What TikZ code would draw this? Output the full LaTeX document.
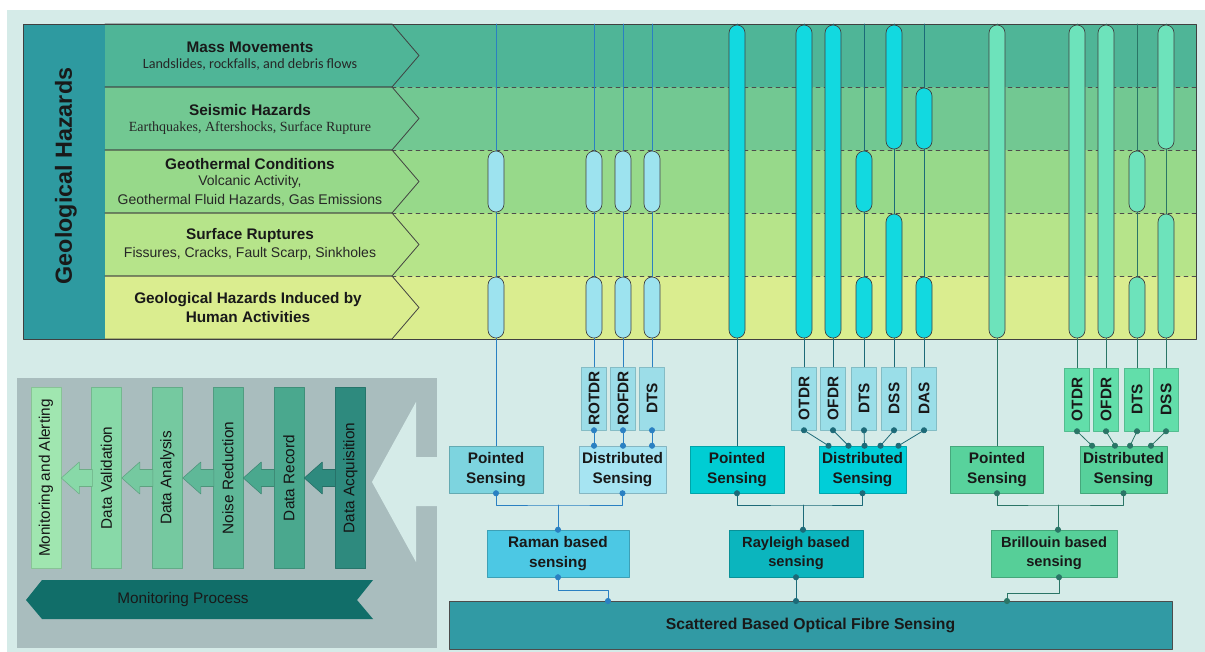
\documentclass[tikz,border=0pt]{standalone}
\usepackage{fontspec}
\setmainfont{Liberation Sans}
\newfontfamily\calfont{Carlito}
\newfontfamily\serfont{Liberation Serif}
\usepackage{graphicx}
\usepackage{tikz}
\usetikzlibrary{arrows.meta}

\definecolor{bgpanel}{HTML}{D5EBE8}
\definecolor{hazcol}{HTML}{2E9AA0}
\definecolor{rowA}{HTML}{4FB597}
\definecolor{rowB}{HTML}{72C892}
\definecolor{rowC}{HTML}{97D98A}
\definecolor{rowD}{HTML}{B6E48A}
\definecolor{rowE}{HTML}{DAED8F}
\definecolor{ramBar}{HTML}{9DE3EF}
\definecolor{rayBar}{HTML}{12D9E0}
\definecolor{briBar}{HTML}{6DE3BB}
\definecolor{ramLine}{HTML}{2A80C2}
\definecolor{rayLine}{HTML}{1C6A78}
\definecolor{briLine}{HTML}{2A7566}
\definecolor{ramPt}{HTML}{7DD4DF}
\definecolor{ramDist}{HTML}{A6E4F2}
\definecolor{ramTool}{HTML}{9CDDE8}
\definecolor{ramBase}{HTML}{4CC8E4}
\definecolor{rayPt}{HTML}{00CDD3}
\definecolor{rayDist}{HTML}{00CED8}
\definecolor{rayTool}{HTML}{9ADEE8}
\definecolor{rayBase}{HTML}{0BB5BE}
\definecolor{briPt}{HTML}{58D29C}
\definecolor{briDist}{HTML}{57D19B}
\definecolor{briTool}{HTML}{62DEAA}
\definecolor{briBase}{HTML}{56CF98}
\definecolor{scatCol}{HTML}{319AA4}
\definecolor{greyPanel}{HTML}{A9BDBE}
\definecolor{procA}{HTML}{A0E6B0}
\definecolor{procB}{HTML}{88D9A8}
\definecolor{procC}{HTML}{75C9A0}
\definecolor{procD}{HTML}{5FB898}
\definecolor{procE}{HTML}{4AA88E}
\definecolor{procF}{HTML}{2E8A7E}
\definecolor{procBanner}{HTML}{116E69}

\newcommand\uptext[1]{\rotatebox{90}{#1}}

\begin{document}
\begin{tikzpicture}[
		x=0.75pt, y=-0.75pt,
		line cap=round,
		line join=round,
		box/.style={draw, inner sep=0pt, align=center, text=black!90,
			font=\bfseries\fontsize{11.5}{14.5}\selectfont},
		sense/.style={box, fill=#1, draw=#1!80!black, minimum height=35.25pt},
		tool/.style={box, fill=#1, draw=#1!85!black,
			minimum width=18.75pt, minimum height=47.25pt},
		proc/.style={fill=#1, draw=#1!85!black, inner sep=0pt,
			minimum width=22.5pt, minimum height=135.75pt,
			font=\fontsize{11.5}{14}\selectfont, text=black!92},
		capsule/.style={draw=black!75, line width=0.5pt, rounded corners=6pt},
		dots/.style={{Circle[length=4.5pt]}-{Circle[length=4.5pt]},
			shorten <=-2.25pt, shorten >=-2.25pt},
		enddot/.style={-{Circle[length=4.5pt]}, shorten >=-2.25pt},
		title/.style={inner sep=0pt, text=black!90,
			font=\bfseries\fontsize{11.5}{14}\selectfont},
		sub/.style={inner sep=0pt, text=black!85,
			font=\fontsize{10.5}{13}\selectfont}
		]
		\useasboundingbox (0,0) rectangle (1205,652);
		\fill[bgpanel] (7,10) rectangle (1205,652);
		
		% =========================
		% Hazard table
		% =========================
		\fill[hazcol] (23,24) rectangle (105,339);
		\foreach \i/\c in {0/rowA,1/rowB,2/rowC,3/rowD,4/rowE}
		{
			\fill[\c] (105,24+63*\i) rectangle (1196,87+63*\i);
		}
		\foreach \i in {0,...,4}
		{
			\draw[black!75, line width=0.6pt]
			(105,24+63*\i) -- (392,24+63*\i) -- (419,55.5+63*\i)
			-- (392,87+63*\i) -- (105,87+63*\i);
		}
		\foreach \y in {87,150,213,276}
		{
			\draw[black!70, dashed, line width=0.6pt] (392,\y) -- (1196,\y);
		}
		\draw[black!75, line width=0.7pt] (23,24) rectangle (1196,339);
		
		\node[rotate=90, inner sep=0pt, text=black!90,
		font=\bfseries\fontsize{17.5}{20}\selectfont] (geo-haz) at (66,176) {Geological Hazards};
		
		\node[title] (mass-t) at (250,47) {Mass Movements};
		\node[sub, font=\calfont\fontsize{10.6}{12}\selectfont] (mass-s) at (250,65) {Landslides, rockfalls, and debris flows};
		\node[title] (seis-t) at (250,110) {Seismic Hazards};
		\node[sub, font=\serfont\fontsize{10.5}{13}\selectfont] (seis-s) at (250,128) {Earthquakes, Aftershocks, Surface Rupture};
		\node[title] (geot-t) at (250,164) {Geothermal Conditions};
		\node[sub] (geot-s) at (250,182) {Volcanic Activity,};
		\node[sub] (geot-u) at (250,200) {Geothermal Fluid Hazards, Gas Emissions};
		\node[title] (surf-t) at (250,236) {Surface Ruptures};
		\node[sub] (surf-s) at (250,254) {Fissures, Cracks, Fault Scarp, Sinkholes};
		\node[title, align=center] (human-t) at (248,307.5) {Geological Hazards Induced by\\Human Activities};
		
		% --------------------------------
		% Sensing boxes
		% --------------------------------
		\node[sense=ramPt, minimum width=70.5pt] (ram-pt) at (496,469.5) {Pointed\\Sensing};
		\node[sense=ramDist, minimum width=65.25pt] (ram-dist) at (622.5,469.5) {Distributed\\Sensing};
		\node[tool=ramTool] (ram-otdr) at (594,398.5) {\uptext{ROTDR}};
		\node[tool=ramTool] (ram-ofdr) at (623,398.5) {\uptext{ROFDR}};
		\node[tool=ramTool] (ram-dts) at (652,398.5) {\uptext{DTS}};
		\node[sense=ramBase, minimum width=106.5pt] (ram-base) at (558,553.5) {Raman based\\sensing};
		
		\node[sense=rayPt, minimum width=70.5pt] (ray-pt) at (737,469.5) {Pointed\\Sensing};
		\node[sense=rayDist, minimum width=65.25pt] (ray-dist) at (862.5,469.5) {Distributed\\Sensing};
		\node[tool=rayTool] (ray-otdr) at (804,398.5) {\uptext{OTDR}};
		\node[tool=rayTool] (ray-ofdr) at (833,398.5) {\uptext{OFDR}};
		\node[tool=rayTool] (ray-dts) at (864,398.5) {\uptext{DTS}};
		\node[tool=rayTool] (ray-dss) at (894,398.5) {\uptext{DSS}};
		\node[tool=rayTool] (ray-das) at (924,398.5) {\uptext{DAS}};
		\node[sense=rayBase, minimum width=100.5pt,
		font=\bfseries\fontsize{11}{14.5}\selectfont] (ray-base) at (796,553.5) {Rayleigh based\\sensing};
		
		\node[sense=briPt, minimum width=70pt] (bri-pt) at (997,469.5) {Pointed\\Sensing};
		\node[sense=briDist, minimum width=65.25pt] (bri-dist) at (1123.5,469.5) {Distributed\\Sensing};
		\node[tool=briTool] (bri-otdr) at (1077,399.5) {\uptext{OTDR}};
		\node[tool=briTool] (bri-ofdr) at (1106,399.5) {\uptext{OFDR}};
		\node[tool=briTool] (bri-dts) at (1137,399.5) {\uptext{DTS}};
		\node[tool=briTool] (bri-dss) at (1166,399.5) {\uptext{DSS}};
		\node[sense=briBase, minimum width=94.5pt,
		font=\bfseries\fontsize{11}{14.5}\selectfont] (bri-base) at (1054,553.5) {Brillouin based\\sensing};
		
		\node[box, fill=scatCol, draw=black!70, minimum width=542.25pt, minimum height=36pt,
		font=\bfseries\fontsize{11.8}{14}\selectfont] (scat) at (810.5,625) {Scattered Based Optical Fibre Sensing};
		
		% --------------------------------
		% Fibre lines up to the top
		% --------------------------------
		\coordinate (top) at (0,24);
		\foreach \n in {ram-pt,ram-otdr,ram-ofdr,ram-dts}
		{
			\draw[ramLine, line width=0.6pt] (\n.north) -- (\n.north |- top);
		}
		\foreach \n in {ray-pt,ray-otdr,ray-ofdr,ray-dts,ray-dss,ray-das}
		{
			\draw[rayLine, line width=0.6pt] (\n.north) -- (\n.north |- top);
		}
		\foreach \n in {bri-pt,bri-otdr,bri-ofdr,bri-dts,bri-dss}
		{
			\draw[briLine, line width=0.6pt] (\n.north) -- (\n.north |- top);
		}
		
		% --------------------------------
		% Capsules over the hazard rows
		% --------------------------------
		\foreach \x in {496,594,623,652}
		{
			\draw[capsule, fill=ramBar] (\x-8,151) rectangle (\x+8,212);
			\draw[capsule, fill=ramBar] (\x-8,277) rectangle (\x+8,338);
		}
		\foreach \x/\ya/\yb in {737/25/338, 804/25/338, 833/25/338,
			864/151/212, 864/277/338, 894/25/149, 894/214/338,
			924/88/149, 924/277/338}
		{
			\draw[capsule, fill=rayBar] (\x-8,\ya) rectangle (\x+8,\yb);
		}
		\foreach \x/\ya/\yb in {997/25/338, 1077/25/338, 1106/25/338,
			1137/151/212, 1137/277/338, 1166/25/149, 1166/214/338}
		{
			\draw[capsule, fill=briBar] (\x-8,\ya) rectangle (\x+8,\yb);
		}
		
		% --------------------------------
		% Connectors
		% --------------------------------
		\foreach \n in {otdr,ofdr,dts}
		{
			\draw[ramLine, dots, line width=0.6pt] (ram-\n.south) -- (ram-\n.south |- ram-dist.north);
		}
		\coordinate (ram-join) at (558,505);
		\draw[ramLine, dots, line width=0.6pt] (ram-pt.south) |- (ram-join) -| (ram-dist.south);
		\draw[ramLine, enddot, line width=0.6pt] (ram-join) -- (ram-base.north);
		\coordinate (ram-in) at (608,601);
		\draw[ramLine, dots, line width=0.6pt] (ram-base.south) -- ++(0,13) -| (ram-in);
		
		\foreach \n/\dx in {otdr/-25.5, ofdr/-10.5, dts/1.5, dss/13.5, das/27}
		{
			\draw[rayLine, dots, line width=0.6pt] (ray-\n.south) -- ([xshift=\dx pt]ray-dist.north);
		}
		\coordinate (ray-join) at (803,505);
		\draw[rayLine, dots, line width=0.6pt] (ray-pt.south) |- (ray-join) -| (ray-dist.south);
		\draw[rayLine, enddot, line width=0.6pt] (ray-join) -- (ray-join |- ray-base.north);
		\coordinate (ray-in) at (796,601);
		\draw[rayLine, dots, line width=0.6pt] (ray-base.south) -- (ray-in);
		
		\foreach \n/\dx in {otdr/-23.6, ofdr/-6.4, dts/4.9, dss/20.6}
		{
			\draw[briLine, dots, line width=0.6pt] (bri-\n.south) -- ([xshift=\dx pt]bri-dist.north);
		}
		\coordinate (bri-join) at (1058,505);
		\draw[briLine, dots, line width=0.6pt] (bri-pt.south) |- (bri-join) -| (bri-dist.south);
		\draw[briLine, enddot, line width=0.6pt] (bri-join) -- (bri-join |- bri-base.north);
		\coordinate (bri-in) at (1007,601);
		\draw[briLine, dots, line width=0.6pt] ([xshift=3.75pt]bri-base.south) -- ++(0,16) -| (bri-in);
		
		% --------------------------------
		% Monitoring process panel
		% --------------------------------
		\fill[greyPanel] (17,378) rectangle (437,648);
		\fill[bgpanel] (438,457) -- (416,457) -- (416,402) -- (372,482)
		-- (416,562) -- (416,506) -- (438,506) -- cycle;
		
		\foreach \n/\x/\c/\t in {
			mon-alert/46/procA/Monitoring and Alerting,
			data-valid/106.5/procB/Data Validation,
			data-anal/167.5/procC/Data Analysis,
			noise-red/228/procD/Noise Reduction,
			data-rec/289/procE/Data Record,
			data-acq/350.5/procF/Data Acquisition}
		{
			\node[proc=\c] (\n) at (\x,478) {\uptext{\t}};
		}
		\foreach \a/\b/\c in {data-acq/data-rec/procF, data-rec/noise-red/procE,
			noise-red/data-anal/procD, data-anal/data-valid/procC,
			data-valid/mon-alert/procB}
		{
			\draw[fill=\c, draw=\c!80!black, line width=0.4pt]
			(\b.east) -- ++(18,-16) -- ++(0,7.5) -- ++(13,0) -- ++(0,17)
			-- ++(-13,0) -- ++(0,7.5) -- cycle;
		}
		
		\fill[procBanner] (26,600) -- (42,580) -- (373,580) -- (357,600)
		-- (373,619) -- (42,619) -- cycle;
		\node[inner sep=0pt, text=black!90, font=\fontsize{11.5}{14}\selectfont]
		(mon-proc) at (183,600) {Monitoring Process};
		
	\end{tikzpicture}
\end{document}
